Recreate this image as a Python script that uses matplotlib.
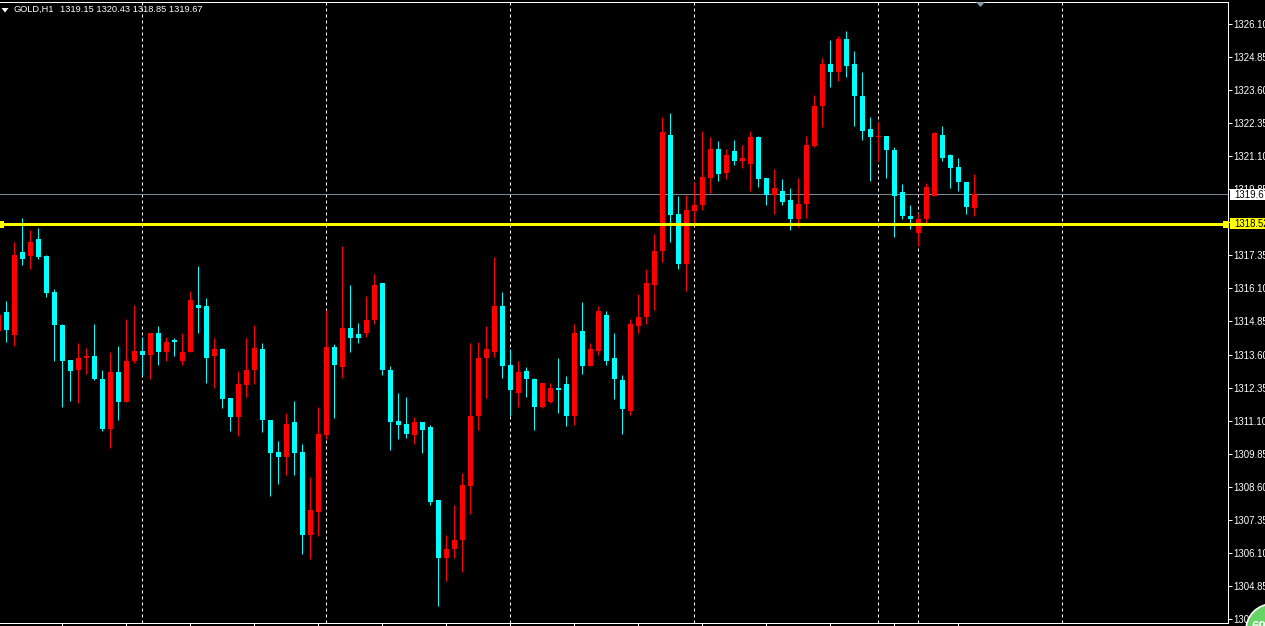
import numpy as np
import matplotlib
matplotlib.use("Agg")
import matplotlib.pyplot as plt
import matplotlib.patches as mpatches

plt.rcParams["font.family"] = ["Liberation Sans", "DejaVu Sans"]
plt.rcParams["lines.scale_dashes"] = False

opens = [1314.47,
    1315.19, 1314.32, 1317.46, 1317.31, 1317.95, 1317.31, 1315.95, 1314.70, 1313.41, 1313.03,
    1313.45, 1313.53, 1312.66, 1310.80, 1312.92, 1311.79, 1313.37, 1313.75, 1313.60, 1314.43,
    1313.71, 1314.13, 1313.34, 1313.71, 1315.49, 1315.42, 1313.53, 1313.79, 1311.94, 1311.22,
    1312.43, 1313.00, 1313.79, 1311.14, 1309.93, 1309.71, 1311.03, 1309.93, 1306.79, 1307.63,
    1310.54, 1313.87, 1313.11, 1314.62, 1314.36, 1314.40, 1314.89, 1316.32, 1313.03, 1311.10,
    1310.99, 1310.54, 1311.03, 1310.84, 1308.08, 1305.92, 1306.23, 1306.57, 1308.61, 1311.26,
    1313.45, 1313.71, 1315.42, 1313.22, 1312.16, 1312.96, 1312.69, 1311.63, 1311.79, 1312.35,
    1312.50, 1311.26, 1314.47, 1313.15, 1313.75, 1315.11, 1313.45, 1312.65, 1311.48, 1314.66,
    1315.00, 1316.21, 1317.50, 1321.92, 1318.90, 1317.04, 1319.01, 1319.24, 1320.29, 1321.39,
    1320.45, 1321.28, 1320.90, 1320.82, 1321.81, 1320.26, 1319.65, 1319.80, 1319.46, 1318.71,
    1319.31, 1321.47, 1322.98, 1324.57, 1324.27, 1325.55, 1324.57, 1323.36, 1322.11, 1321.81,
    1321.85, 1321.35, 1319.73, 1318.82, 1318.18, 1318.71, 1319.61, 1321.92, 1321.13, 1320.71,
    1320.14, 1319.15]
highs = [1315.60,
    1315.64, 1317.87, 1318.78, 1318.29, 1318.37, 1317.38, 1316.06, 1314.74, 1313.41, 1314.02,
    1313.83, 1314.74, 1313.03, 1313.71, 1313.94, 1314.93, 1315.49, 1314.28, 1314.43, 1314.66,
    1314.28, 1314.24, 1314.40, 1316.02, 1316.93, 1315.72, 1314.21, 1313.83, 1311.94, 1312.96,
    1314.21, 1314.70, 1314.02, 1311.14, 1310.31, 1311.37, 1311.86, 1310.20, 1308.95, 1311.60,
    1315.30, 1313.98, 1317.69, 1316.21, 1314.81, 1315.83, 1316.63, 1316.32, 1313.15, 1312.13,
    1312.01, 1311.22, 1311.03, 1310.95, 1308.08, 1306.76, 1307.89, 1309.10, 1314.05, 1314.09,
    1314.66, 1317.27, 1315.95, 1313.79, 1313.37, 1313.11, 1312.73, 1312.54, 1312.54, 1313.45,
    1312.77, 1314.74, 1315.57, 1314.05, 1315.45, 1315.23, 1314.43, 1312.84, 1314.96, 1315.87,
    1316.82, 1318.14, 1322.60, 1322.75, 1319.61, 1319.65, 1320.14, 1322.07, 1321.81, 1321.69,
    1321.39, 1321.73, 1321.54, 1322.07, 1321.85, 1320.26, 1320.60, 1320.22, 1319.88, 1320.29,
    1321.88, 1323.43, 1324.80, 1325.48, 1325.63, 1325.82, 1325.06, 1324.27, 1322.60, 1322.41,
    1321.88, 1321.43, 1320.03, 1319.27, 1318.97, 1320.07, 1322.00, 1322.26, 1321.20, 1321.05,
    1320.14, 1320.43]
lows = [1314.00,
    1314.09, 1313.94, 1316.97, 1316.82, 1317.23, 1315.79, 1313.37, 1311.60, 1311.86, 1311.75,
    1312.88, 1312.62, 1310.69, 1310.05, 1311.14, 1311.79, 1313.26, 1312.81, 1312.69, 1313.22,
    1313.34, 1313.53, 1313.19, 1313.68, 1314.43, 1312.54, 1312.32, 1311.56, 1310.69, 1310.50,
    1312.01, 1312.50, 1310.65, 1308.23, 1308.72, 1309.06, 1309.06, 1306.04, 1305.85, 1306.72,
    1310.42, 1311.18, 1312.73, 1313.71, 1314.02, 1314.28, 1314.74, 1312.81, 1309.97, 1310.42,
    1310.46, 1310.20, 1309.86, 1307.89, 1304.07, 1305.02, 1305.92, 1305.36, 1307.55, 1310.76,
    1311.94, 1313.49, 1312.73, 1311.29, 1311.60, 1312.01, 1310.73, 1311.56, 1311.75, 1311.37,
    1310.88, 1310.92, 1312.88, 1313.15, 1313.60, 1313.22, 1311.90, 1310.58, 1311.33, 1314.40,
    1314.74, 1315.27, 1317.08, 1317.84, 1316.82, 1316.02, 1318.59, 1319.08, 1319.69, 1320.18,
    1320.22, 1320.75, 1320.67, 1319.80, 1319.92, 1319.24, 1318.93, 1319.24, 1318.29, 1318.44,
    1318.78, 1321.43, 1322.19, 1323.70, 1323.93, 1324.11, 1322.26, 1321.73, 1320.18, 1320.90,
    1320.29, 1318.03, 1318.71, 1318.33, 1317.72, 1318.55, 1319.58, 1320.90, 1319.88, 1319.80,
    1318.93, 1318.85]
closes = [1315.11,
    1314.51, 1317.38, 1317.23, 1317.87, 1317.27, 1315.91, 1314.70, 1313.37, 1312.96, 1313.45,
    1313.53, 1312.66, 1310.80, 1312.92, 1311.79, 1313.37, 1313.75, 1313.60, 1314.43, 1313.71,
    1314.06, 1314.06, 1313.71, 1315.68, 1315.34, 1313.45, 1313.79, 1311.90, 1311.22, 1312.50,
    1313.00, 1313.83, 1311.11, 1309.86, 1309.71, 1310.99, 1309.89, 1306.79, 1307.70, 1310.58,
    1313.90, 1313.19, 1314.62, 1314.24, 1314.21, 1314.92, 1316.21, 1313.00, 1311.03, 1310.95,
    1310.58, 1311.03, 1310.76, 1308.04, 1305.92, 1306.23, 1306.57, 1308.65, 1311.26, 1313.45,
    1313.79, 1315.45, 1313.15, 1312.24, 1312.92, 1312.69, 1311.63, 1312.54, 1312.32, 1312.24,
    1311.29, 1314.43, 1313.15, 1313.79, 1315.23, 1313.37, 1312.69, 1311.52, 1314.77, 1315.00,
    1316.29, 1317.53, 1322.00, 1318.86, 1317.04, 1319.05, 1319.24, 1320.33, 1321.39, 1320.41,
    1321.16, 1320.90, 1321.05, 1321.81, 1320.22, 1319.65, 1319.88, 1319.35, 1318.71, 1319.31,
    1321.51, 1322.98, 1324.57, 1324.30, 1325.55, 1324.53, 1323.36, 1322.07, 1321.81, 1321.85,
    1321.32, 1319.58, 1318.82, 1318.74, 1318.71, 1319.95, 1321.96, 1321.05, 1320.67, 1320.11,
    1319.16, 1319.67]

price_ticks = [1326.10, 1324.85, 1323.60, 1322.35, 1321.10, 1319.85, 1318.60, 1317.35, 1316.10,
               1314.85, 1313.60, 1312.35, 1311.10, 1309.85, 1308.60, 1307.35, 1306.10, 1304.85, 1303.60]
day_breaks = [18, 41, 64, 87, 110, 115, 133]
time_ticks = list(range(8, 121, 8))
last_price = 1319.67
level_price = 1318.52
header_name = "GOLD,H1"
header_ohlc = "1319.15 1320.43 1318.85 1319.67"

W, H = 1265, 626
RED = "#ff0000"
CYAN = "#00ffff"
YELLOW = "#ffff00"
PX = 72 / 100  # one pixel in points

fig = plt.figure(figsize=(W / 100, H / 100), dpi=100, facecolor="black")
ax = fig.add_axes([0, (H - 623) / H, 1228 / W, 621 / H], facecolor="black")

x = np.arange(len(opens))
o, h, l, c = map(np.array, (opens, highs, lows, closes))
colors = [RED if up else CYAN for up in c > o]

# grid under the candles
grid = ax.vlines(day_breaks, 0, 1, transform=ax.get_xaxis_transform(), color="white",
                 lw=PX, linestyles=(0, (3 * PX, 3 * PX)), zorder=1)
grid.set_snap(True)
ax.axhline(last_price, color="#778899", lw=PX, zorder=1)

wicks = ax.vlines(x, l, h, colors=colors, lw=PX, zorder=2)
wicks.set_snap(True)
ax.bar(x, np.abs(c - o), bottom=np.minimum(o, c), width=0.625, color=colors,
       linewidth=0, zorder=3)

ax.axhline(level_price, color=YELLOW, lw=3 * PX, zorder=4)

ax.set_xlim(0.25, 153.75)
ax.set_ylim(1303.445, 1326.932)

ax.spines["left"].set_visible(False)
for side in ["top", "right", "bottom"]:
    ax.spines[side].set_color("white")
    ax.spines[side].set_linewidth(PX)

ax.set_xticks(time_ticks)
ax.set_xticklabels([])
ax.tick_params(axis="x", color="white", width=PX, length=3 * PX, direction="out")
ax.yaxis.tick_right()
ax.set_yticks(price_ticks)
ax.set_yticklabels(["%.2f" % p for p in price_ticks], fontsize=6.9, color="white")
ax.tick_params(axis="y", color="white", width=PX, length=4 * PX, pad=1.0, direction="out")

# terminal overlays, in screen pixels
ov = fig.add_axes([0, 0, 1, 1], facecolor="none")
ov.set_xlim(0, W)
ov.set_ylim(H, 0)
ov.axis("off")

ov.add_patch(mpatches.Polygon([(1.5, 8), (8.5, 8), (5, 12.5)], color="white", lw=0))
ov.text(13, 9.5, header_name, color="white", fontsize=6.7, va="center", ha="left")
ov.text(60, 9.5, header_ohlc, color="white", fontsize=6.65, va="center", ha="left")
ov.add_patch(mpatches.Polygon([(976, 2), (985, 2), (980.5, 7)], color="#8a9bab", lw=0))

ov.add_patch(mpatches.Rectangle((1230, 189), 35, 11, color="white", lw=0))
ov.text(1234, 194.8, "%.2f" % last_price, color="black", fontsize=6.9, va="center", ha="left")
ov.add_patch(mpatches.Rectangle((1230, 218), 35, 11, color=YELLOW, lw=0))
ov.text(1234, 224, "%.2f" % level_price, color="black", fontsize=6.9, va="center", ha="left")

for sx in [-2, 1223]:
    ov.add_patch(mpatches.Rectangle((sx, 221), 6, 7, color=YELLOW, lw=0))

ov.add_patch(mpatches.Circle((1272, 630), 26, facecolor="#66d466", edgecolor="white", lw=1.2))
ov.text(1251, 621, "69", color="white", fontsize=9.5, fontweight="bold", va="top", ha="left")

fig.savefig("out.png", dpi=100, facecolor="black")
